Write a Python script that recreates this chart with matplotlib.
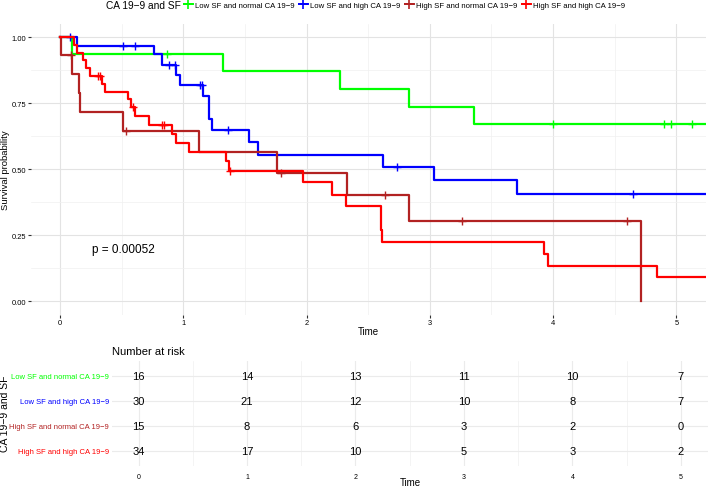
import numpy as np
import matplotlib
matplotlib.use("Agg")
import matplotlib.pyplot as plt
from matplotlib.lines import Line2D
from matplotlib.ticker import MultipleLocator

plt.rcParams['font.family'] = ['Liberation Sans', 'DejaVu Sans']

# groupes et couleurs
groups = ["Low SF and normal CA 19\u22129", "Low SF and high CA 19\u22129",
          "High SF and normal CA 19\u22129", "High SF and high CA 19\u22129"]
colors = ["#00FF00", "#0000FF", "#B22222", "#FF0000"]

# courbes de survie
green_t = [0, 0.10, 1.32, 2.27, 2.83, 3.36, 5.3]
green_s = [1.0, 0.9375, 0.8705, 0.8036, 0.7366, 0.6696, 0.6696]
green_cens = [0.865, 4.0, 4.9, 4.96, 5.13]

blue_t = [0, 0.14, 0.76, 0.83, 0.94, 0.97, 1.16, 1.21, 1.235, 1.535, 1.61, 2.62, 3.03, 3.71, 5.3]
blue_s = [1.0, 0.967, 0.935, 0.896, 0.858, 0.819, 0.776, 0.69, 0.650, 0.602, 0.555, 0.51, 0.458, 0.408, 0.408]
blue_cens = [0.08, 0.51, 0.61, 0.886, 0.93, 1.133, 1.15, 1.36, 2.73, 4.65]

darkred_t = [0, 0.01, 0.095, 0.154, 0.165, 0.513, 1.13, 1.757, 2.325, 2.83, 4.715]
darkred_s = [1.0, 0.933, 0.862, 0.790, 0.718, 0.646, 0.565, 0.484, 0.403, 0.303, 0.0]
darkred_cens = [0.087, 0.535, 1.79, 2.64, 3.26, 4.60]

red_t = [0, 0.11, 0.135, 0.19, 0.21, 0.243, 0.338, 0.365, 0.554, 0.58, 0.61, 0.724, 0.91,
         0.94, 1.05, 1.35, 1.37, 1.97, 2.21, 2.32, 2.60, 2.615, 3.93, 3.96, 4.845, 5.3]
red_s = [1.0, 0.971, 0.941, 0.912, 0.882, 0.853, 0.823, 0.794, 0.765, 0.735, 0.703, 0.668, 0.634,
         0.600, 0.564, 0.53, 0.495, 0.45, 0.404, 0.36, 0.27, 0.226, 0.179, 0.135, 0.091, 0.091]
red_cens = [0.31, 0.325, 0.595, 0.825, 0.843, 1.38]

# table des effectifs à risque
risk_times = [0, 1, 2, 3, 4, 5]
risk_green = [16, 14, 13, 11, 10, 7]
risk_blue = [30, 21, 12, 10, 8, 7]
risk_darkred = [15, 8, 6, 3, 2, 0]
risk_red = [34, 17, 10, 5, 3, 2]

pval_text = "p = 0.00052"

curves = [(green_t, green_s, green_cens), (blue_t, blue_s, blue_cens),
          (darkred_t, darkred_s, darkred_cens), (red_t, red_s, red_cens)]
risks = [risk_green, risk_blue, risk_darkred, risk_red]


def step_value(t, s, x):
    i = np.searchsorted(np.asarray(t), x, side="right") - 1
    return np.asarray(s)[i]


W, H = 708, 489
fig = plt.figure(figsize=(W / 100, H / 100), dpi=100)

# --- courbes
ax = fig.add_axes([31 / W, 1 - 315.5 / H, 675 / W, 290.5 / H])
ax.set_xlim(-0.235, 5.24)
ax.set_ylim(-0.05, 1.05)
ax.xaxis.set_major_locator(MultipleLocator(1))
ax.xaxis.set_minor_locator(MultipleLocator(0.5))
ax.yaxis.set_minor_locator(MultipleLocator(0.125))
ax.set_yticks([0, 0.25, 0.5, 0.75, 1.0])
ax.set_yticklabels(["0.00", "0.25", "0.50", "0.75", "1.00"])
ax.grid(which="major", color="#E3E3E3", lw=0.8)
ax.grid(which="minor", color="#F0F0F0", lw=0.5)
ax.set_axisbelow(True)
for sp in ax.spines.values():
    sp.set_visible(False)
ax.tick_params(which="major", length=2, width=0.8, color="#333333", labelsize=5.4, pad=1.5)
ax.tick_params(which="minor", length=0)

for (t, s, cens), c in zip(curves, colors):
    ax.step(t, s, where="post", color=c, lw=1.6)
    ax.plot(cens, step_value(t, s, cens), ls="none", marker="+", ms=6, mew=1.0, color=c)

ax.text(0.26, 0.198, pval_text, fontsize=8.5, ha="left", va="center")
fig.text(368 / W, 1 - 332 / H, "Time", fontsize=7, ha="center", va="center")
fig.text(5.5 / W, 1 - 170 / H, "Survival probability", fontsize=6.8, rotation=90,
         ha="center", va="center")

# --- légende
fig.text(106 / W, 1 - 6 / H, "CA 19\u22129 and SF", fontsize=7.3, ha="left", va="center")
handles = [Line2D([], [], color=c, lw=1.4, marker="+", ms=7, mew=1.2) for c in colors]
fig.legend(handles, groups, ncol=4, loc="center left", bbox_to_anchor=(184 / W, 1 - 6 / H),
           frameon=False, fontsize=5.6, handlelength=1.1, handletextpad=0.35,
           columnspacing=0.55, borderpad=0, borderaxespad=0)

# --- table du nombre à risque
tab = fig.add_axes([112 / W, 1 - 467 / H, 596 / W, 105 / H])
tab.set_xlim(-0.245, 5.25)
tab.set_ylim(3.6, -0.6)
tab.xaxis.set_major_locator(MultipleLocator(1))
tab.xaxis.set_minor_locator(MultipleLocator(0.5))
tab.set_yticks(range(len(groups)))
tab.set_yticklabels(groups)
for lbl, c in zip(tab.get_yticklabels(), colors):
    lbl.set_color(c)
tab.tick_params(axis="y", length=0, labelsize=5.5, pad=2)
tab.tick_params(axis="x", which="both", length=0, labelsize=5, pad=5)
tab.grid(which="major", color="#EBEBEB", lw=0.8)
tab.grid(which="minor", axis="x", color="#F0F0F0", lw=0.5)
tab.set_axisbelow(True)
for sp in tab.spines.values():
    sp.set_visible(False)
for row, vals in enumerate(risks):
    for x, v in zip(risk_times, vals):
        tab.text(x, row, str(v), fontsize=8, ha="center", va="center")
fig.text(410 / W, 1 - 483.5 / H, "Time", fontsize=7, ha="center", va="center")
fig.text(112 / W, 1 - 352 / H, "Number at risk", fontsize=8, ha="left", va="center")
fig.text(5 / W, 1 - 414 / H, "CA 19\u22129 and SF", fontsize=7.5, rotation=90,
         ha="center", va="center")

fig.savefig("out.png", dpi=100)
